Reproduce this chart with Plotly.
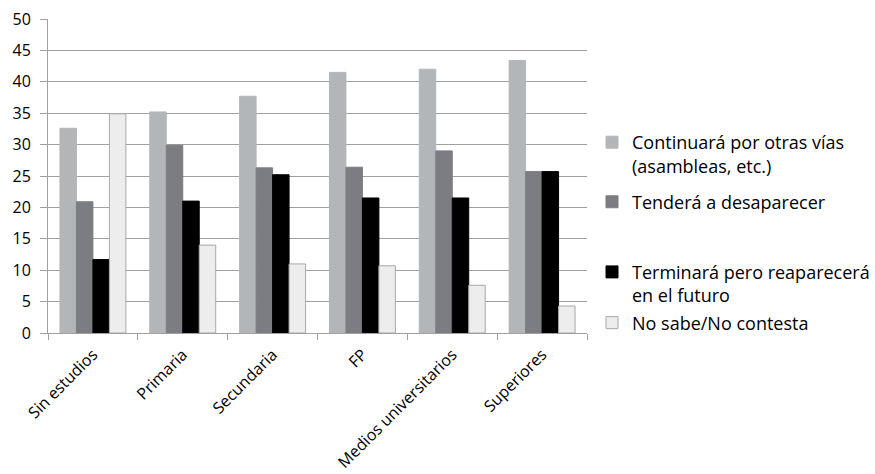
import plotly.graph_objects as go

categories = ["Sin estudios", "Primaria", "Secundaria", "FP",
              "Medios universitarios", "Superiores"]

series_names = [
    "Continuará por otras vías<br>(asambleas, etc.)",
    "Tenderá a desaparecer",
    "Terminará pero reaparecerá<br>en el futuro",
    "No sabe/No contesta",
]

continuara = [32.6, 35.2, 37.7, 41.5, 42.0, 43.4]
tendera = [20.9, 29.9, 26.3, 26.4, 29.0, 25.7]
terminara = [11.7, 21.0, 25.2, 21.5, 21.5, 25.7]
no_sabe = [34.9, 14.0, 11.0, 10.7, 7.6, 4.3]

y_ticks = [0, 5, 10, 15, 20, 25, 30, 35, 40, 45, 50]

series_values = [continuara, tendera, terminara, no_sabe]
fill_colors = ["#B3B6B9", "#7C7D82", "#000000", "#ECEDEC"]
line_colors = ["#B3B6B9", "#7C7D82", "#000000", "#A8A8A8"]
legend_ids = ["legend", "legend2", "legend3", "legend4"]

FONT = "'Open Sans', Lato, sans-serif"
GRID = "#A0A0A0"

fig = go.Figure()
for name, vals, fc, lc, lg in zip(series_names, series_values, fill_colors,
                                  line_colors, legend_ids):
    fig.add_trace(go.Bar(
        x=categories, y=vals, name=name,
        marker=dict(color=fc, line=dict(color=lc, width=1)),
        legend=lg, showlegend=True,
    ))

# One legend box per series so each entry sits at its own height
legend_common = dict(
    xanchor="left", yanchor="middle", valign="top",
    font=dict(family=FONT, size=18, color="#000000"),
    bgcolor="rgba(0,0,0,0)", borderwidth=0,
    itemclick=False, itemdoubleclick=False,
)
legend_y = [0.570, 0.417, 0.157, 0.032]
legend_x = 1.0093

fig.update_layout(
    width=875, height=474,
    margin=dict(l=48, r=288, t=19, b=141, pad=0, autoexpand=False),
    paper_bgcolor="white", plot_bgcolor="white",
    barmode="group", bargap=0.266, bargroupgap=0,
    showlegend=True,
    font=dict(family=FONT, size=16, color="#000000"),
    legend=dict(x=legend_x, y=legend_y[0], **legend_common),
    legend2=dict(x=legend_x, y=legend_y[1], **legend_common),
    legend3=dict(x=legend_x, y=legend_y[2], **legend_common),
    legend4=dict(x=legend_x, y=legend_y[3], **legend_common),
    xaxis=dict(
        type="category", tickangle=-45, tickson="boundaries",
        ticks="outside", ticklen=6, tickcolor=GRID, tickwidth=1,
        ticklabelstandoff=5,
        showline=True, linecolor=GRID, linewidth=1,
        showgrid=False, zeroline=False, automargin=False,
        tickfont=dict(family=FONT, size=16, color="#000000"),
    ),
    yaxis=dict(
        range=[0, 50], tickvals=y_ticks,
        ticks="outside", ticklen=7, tickcolor=GRID, tickwidth=1,
        ticklabelstandoff=6,
        showline=True, linecolor=GRID, linewidth=1,
        showgrid=True, gridcolor=GRID, gridwidth=1,
        zeroline=False, automargin=False,
        tickfont=dict(family=FONT, size=16, color="#000000"),
    ),
)

fig.write_html("out.html")
